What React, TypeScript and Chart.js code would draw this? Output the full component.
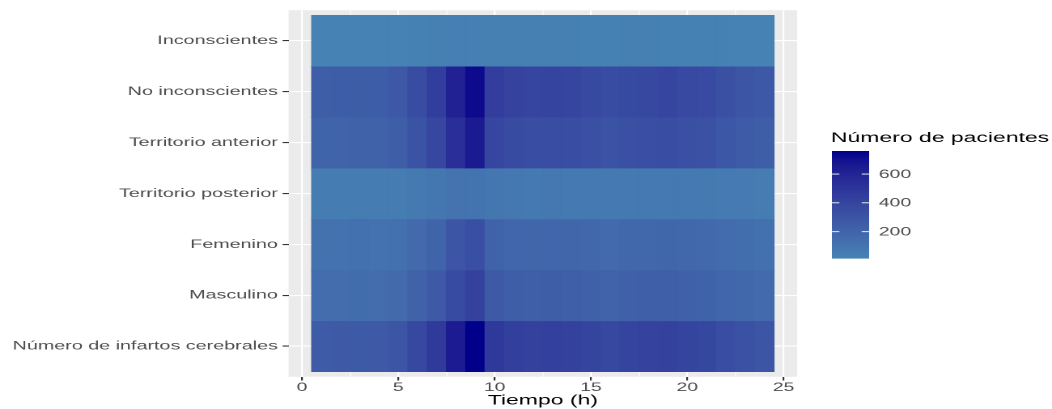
import { useEffect, useRef } from "react";
import { Chart, registerables } from "chart.js";

Chart.register(...registerables);

// ---------- data ----------
const rowLabels = [
  "Inconscientes",
  "No inconscientes",
  "Territorio anterior",
  "Territorio posterior",
  "Femenino",
  "Masculino",
  "Número de infartos cerebrales",
];

const hours = [1, 2, 3, 4, 5, 6, 7, 8, 9, 10, 11, 12, 13, 14, 15, 16, 17, 18, 19, 20, 21, 22, 23, 24];

const inconscientes = [20, 18, 18, 17, 18, 22, 28, 35, 38, 32, 30, 28, 30, 28, 26, 25, 28, 27, 26, 25, 24, 22, 20, 19];
const noInconscientes = [240, 247, 252, 248, 282, 358, 442, 615, 722, 448, 410, 392, 400, 392, 374, 355, 372, 383, 394, 375, 366, 328, 300, 281];
const territorioAnterior = [205, 213, 220, 215, 245, 315, 385, 540, 655, 395, 362, 345, 352, 345, 328, 310, 325, 338, 348, 330, 322, 288, 262, 245];
const territorioPosterior = [55, 52, 50, 50, 55, 65, 85, 110, 105, 85, 78, 75, 78, 75, 72, 70, 75, 72, 72, 70, 68, 62, 58, 55];
const femenino = [115, 118, 120, 118, 132, 165, 205, 290, 340, 215, 195, 185, 190, 185, 178, 170, 178, 182, 186, 178, 172, 155, 142, 132];
const masculino = [145, 147, 150, 147, 168, 215, 265, 360, 420, 265, 245, 235, 240, 235, 222, 210, 222, 228, 234, 222, 218, 195, 178, 168];
const numeroInfartos = [260, 265, 270, 265, 300, 380, 470, 650, 760, 480, 440, 420, 430, 420, 400, 380, 400, 410, 420, 400, 390, 350, 320, 300];

const rowValues = [
  inconscientes,
  noInconscientes,
  territorioAnterior,
  territorioPosterior,
  femenino,
  masculino,
  numeroInfartos,
];

const xTicks = [0, 5, 10, 15, 20, 25];
const xMinorTicks = [2.5, 7.5, 12.5, 17.5, 22.5];
const legendTicks = [200, 400, 600];
const legendTitle = "Número de pacientes";
const xTitle = "Tiempo (h)";

const LOW = "#4682B4"; // steelblue
const HIGH = "#00008B"; // darkblue

// ---------- colour helpers (CIELAB interpolation like ggplot) ----------
function hexToRgb(h: string) {
  const n = parseInt(h.slice(1), 16);
  return [(n >> 16) & 255, (n >> 8) & 255, n & 255];
}
function toLin(c: number) {
  c /= 255;
  return c <= 0.04045 ? c / 12.92 : Math.pow((c + 0.055) / 1.055, 2.4);
}
function fromLin(c: number) {
  const v = c <= 0.0031308 ? 12.92 * c : 1.055 * Math.pow(c, 1 / 2.4) - 0.055;
  return Math.max(0, Math.min(255, Math.round(v * 255)));
}
function rgbToLab([r, g, b]: number[]) {
  const R = toLin(r), G = toLin(g), B = toLin(b);
  const X = (0.4124 * R + 0.3576 * G + 0.1805 * B) / 0.95047;
  const Y = 0.2126 * R + 0.7152 * G + 0.0722 * B;
  const Z = (0.0193 * R + 0.1192 * G + 0.9505 * B) / 1.08883;
  const f = (t: number) => (t > 0.008856 ? Math.cbrt(t) : 7.787 * t + 16 / 116);
  const fx = f(X), fy = f(Y), fz = f(Z);
  return [116 * fy - 16, 500 * (fx - fy), 200 * (fy - fz)];
}
function labToRgb([L, a, b]: number[]) {
  const fy = (L + 16) / 116;
  const fx = fy + a / 500;
  const fz = fy - b / 200;
  const inv = (t: number) => (t * t * t > 0.008856 ? t * t * t : (t - 16 / 116) / 7.787);
  const X = inv(fx) * 0.95047, Y = inv(fy), Z = inv(fz) * 1.08883;
  const R = 3.2406 * X - 1.5372 * Y - 0.4986 * Z;
  const G = -0.9689 * X + 1.8758 * Y + 0.0415 * Z;
  const B = 0.0557 * X - 0.204 * Y + 1.057 * Z;
  return [fromLin(R), fromLin(G), fromLin(B)];
}
const lowLab = rgbToLab(hexToRgb(LOW));
const highLab = rgbToLab(hexToRgb(HIGH));

const allValues = rowValues.flat();
const vMin = Math.min(...allValues);
const vMax = Math.max(...allValues);

function colorFor(v: number) {
  const t = Math.max(0, Math.min(1, (v - vMin) / (vMax - vMin)));
  const lab = [0, 1, 2].map((i) => lowLab[i] + (highLab[i] - lowLab[i]) * t);
  const [r, g, b] = labToRgb(lab);
  return `rgb(${r},${g},${b})`;
}

// ---------- layout (internal canvas coordinates, stretched by CSS) ----------
const W = 650;
const H = 409;
const CSS_W = 1052;
const FONT = "'Liberation Sans', Arial, Helvetica, sans-serif";

const panelPlugin = {
  id: "panelBg",
  beforeDraw(chart: any) {
    const { ctx, chartArea: a } = chart;
    ctx.save();
    ctx.fillStyle = "#EBEBEB";
    ctx.fillRect(a.left, a.top, a.right - a.left, a.bottom - a.top);
    ctx.restore();
  },
};

const colorbarPlugin = {
  id: "colorbar",
  afterDraw(chart: any) {
    const ctx = chart.ctx as CanvasRenderingContext2D;
    const left = 514;
    const width = 23;
    const top = 151;
    const bottom = 258;
    const n = 214;
    const h = (bottom - top) / n;
    ctx.save();
    for (let i = 0; i < n; i++) {
      const v = vMax - ((i + 0.5) / n) * (vMax - vMin);
      ctx.fillStyle = colorFor(v);
      ctx.fillRect(left, top + i * h, width, h + 0.6);
    }
    ctx.strokeStyle = "#FFFFFF";
    ctx.lineWidth = 0.9;
    ctx.font = `12px ${FONT}`;
    ctx.fillStyle = "#4D4D4D";
    ctx.textAlign = "left";
    ctx.textBaseline = "middle";
    legendTicks.forEach((v) => {
      const y = bottom - ((v - vMin) / (vMax - vMin)) * (bottom - top);
      ctx.beginPath();
      ctx.moveTo(left, y);
      ctx.lineTo(left + width / 5, y);
      ctx.moveTo(left + width - width / 5, y);
      ctx.lineTo(left + width, y);
      ctx.stroke();
      ctx.fillText(String(v), left + width + 6, y + 0.5);
    });
    ctx.font = `14.2px ${FONT}`;
    ctx.fillStyle = "#000000";
    ctx.fillText(legendTitle, 513.4, 138);
    ctx.restore();
  },
};

export default function App() {
  const canvasRef = useRef<HTMLCanvasElement | null>(null);

  useEffect(() => {
    const canvas = canvasRef.current;
    if (!canvas) return;

    const datasets = rowLabels.map((label, i) => ({
      label,
      data: hours.map((h) => ({ x: [h - 0.5, h + 0.5], y: rowLabels.length - i })),
      backgroundColor: rowValues[i].map((v) => colorFor(v)),
      borderWidth: 0,
      grouped: false,
      barPercentage: 1,
      categoryPercentage: 1,
    }));

    const chart = new Chart(canvas, {
      type: "bar",
      data: { datasets: datasets as any },
      plugins: [panelPlugin, colorbarPlugin],
      options: {
        indexAxis: "y",
        responsive: false,
        animation: false,
        devicePixelRatio: 2,
        events: [],
        layout: { padding: { left: 0, top: 9.9, right: 157.5, bottom: 0 } },
        plugins: {
          legend: { display: false },
          tooltip: { enabled: false },
          title: { display: false },
        },
        scales: {
          x: {
            type: "linear",
            min: -0.7,
            max: 25.7,
            offset: false,
            afterBuildTicks: (s: any) => {
              s.ticks = [...xTicks, ...xMinorTicks]
                .sort((a, b) => a - b)
                .map((v) => ({ value: v }));
            },
            afterFit: (s: any) => {
              s.height = 32.2;
            },
            border: { display: false },
            grid: {
              color: "#FFFFFF",
              lineWidth: (c: any) => (xMinorTicks.includes(c.tick?.value) ? 0.55 : 1.1),
              tickColor: (c: any) => (xMinorTicks.includes(c.tick?.value) ? "rgba(0,0,0,0)" : "#333333"),
              tickLength: 3.7,
              drawTicks: true,
            },
            ticks: {
              autoSkip: false,
              maxRotation: 0,
              padding: 0,
              color: "#4D4D4D",
              font: { family: FONT, size: 12 },
              callback: (v: any) => (xTicks.includes(Number(v)) ? String(v) : ""),
            },
            title: {
              display: true,
              text: xTitle,
              color: "#000000",
              font: { family: FONT, size: 14.2 },
              padding: { top: 0, bottom: 0 },
            },
          },
          y: {
            type: "linear",
            min: 0.4,
            max: 7.6,
            offset: false,
            afterBuildTicks: (s: any) => {
              s.ticks = rowLabels.map((_, i) => ({ value: i + 1 }));
            },
            afterFit: (s: any) => {
              s.width = 178.3;
            },
            border: { display: false },
            grid: {
              color: "#FFFFFF",
              lineWidth: 1.1,
              tickColor: "#333333",
              tickLength: 3.7,
              offset: false,
            },
            ticks: {
              autoSkip: false,
              padding: 2.9,
              color: "#4D4D4D",
              font: { family: FONT, size: 12.2 },
              callback: (v: any) => rowLabels[rowLabels.length - Number(v)] ?? "",
            },
          },
        },
      } as any,
    });

    return () => {
      chart.destroy();
    };
  }, []);

  return (
    <div style={{ position: "fixed", left: 0, top: 0, width: CSS_W, height: H, background: "#FFFFFF" }}>
      <canvas
        ref={canvasRef}
        width={W}
        height={H}
        style={{ width: `${CSS_W}px`, height: `${H}px`, display: "block" }}
      />
    </div>
  );
}
